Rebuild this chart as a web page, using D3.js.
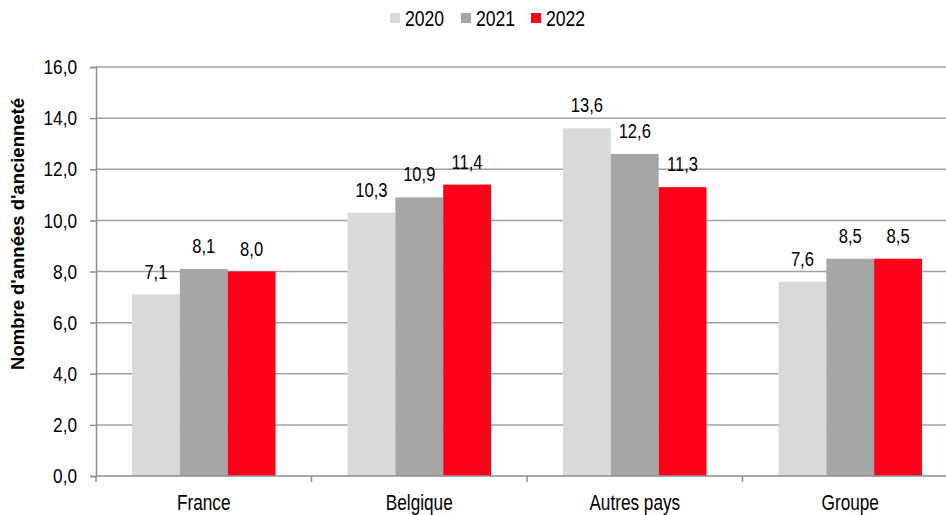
<!DOCTYPE html>
<html>
<head>
<meta charset="utf-8">
<script src="https://cdn.jsdelivr.net/npm/d3@7"></script>
<style>
  body { margin: 0; background: #fff; }
  svg { font-family: "Liberation Sans", Arial, sans-serif; }
</style>
</head>
<body>
<div id="chart"></div>
<script>
// Data
const categories = ["France", "Belgique", "Autres pays", "Groupe"];
const years = ["2020", "2021", "2022"];
const values2020 = [7.1, 10.3, 13.6, 7.6];
const values2021 = [8.1, 10.9, 12.6, 8.5];
const values2022 = [8.0, 11.4, 11.3, 8.5];
const yTicks = [0, 2, 4, 6, 8, 10, 12, 14, 16];
const colors = ["#d9d9d9", "#a6a6a6", "#ff0019"];

const series = [values2020, values2021, values2022];

const width = 946, height = 515;
const margin = { top: 67, left: 96, bottom: 39 };

const svg = d3.select("#chart")
  .append("svg")
  .attr("width", width)
  .attr("height", height);

const x = d3.scaleBand()
  .domain(categories)
  .range([margin.left, margin.left + 4 * 215.5])
  .paddingInner(0)
  .paddingOuter(0);

const xInner = d3.scaleBand()
  .domain(years)
  .range([36, x.bandwidth() - 36]);

const y = d3.scaleLinear()
  .domain([0, 16])
  .range([height - margin.bottom, margin.top]);

const fmt = (v) => d3.format(".1f")(v).replace(".", ",");

// Horizontal gridlines
svg.append("g")
  .selectAll("line")
  .data(yTicks.filter((d) => d > 0))
  .enter()
  .append("line")
  .attr("x1", margin.left)
  .attr("x2", width)
  .attr("y1", (d) => y(d))
  .attr("y2", (d) => y(d))
  .attr("stroke", "#a0a0a0")
  .attr("stroke-width", 1.5);

// Bars + value labels (original uses a narrow face, so squeeze the text)
const groups = svg.append("g")
  .selectAll("g")
  .data(categories)
  .enter()
  .append("g")
  .attr("transform", (d) => `translate(${x(d)},0)`);

years.forEach((yr, i) => {
  groups.append("rect")
    .attr("x", xInner(yr))
    .attr("width", xInner.bandwidth())
    .attr("y", (d, j) => y(series[i][j]))
    .attr("height", (d, j) => y(0) - y(series[i][j]))
    .attr("fill", colors[i]);

  groups.append("text")
    .attr("transform", (d, j) =>
      `translate(${xInner(yr) + xInner.bandwidth() / 2},${y(series[i][j]) - 16}) scale(0.85,1)`)
    .attr("text-anchor", "middle")
    .style("font-size", "19.5px")
    .style("fill", "#000")
    .text((d, j) => fmt(series[i][j]));
});

// Y axis
const yAxis = svg.append("g")
  .attr("transform", `translate(${margin.left},0)`)
  .call(d3.axisLeft(y).tickValues(yTicks).tickFormat(fmt).tickSizeOuter(0).tickSize(6).tickPadding(0));
yAxis.select(".domain").attr("stroke", "#8c8c8c").attr("stroke-width", 1.5);
yAxis.selectAll(".tick line").attr("stroke", "#8c8c8c").attr("stroke-width", 1.5);
yAxis.selectAll(".tick text")
  .attr("x", null)
  .attr("transform", "translate(-19,0) scale(0.82,1)")
  .style("font-size", "21px")
  .style("fill", "#000")
  .style("font-family", "'Liberation Sans', Arial, sans-serif");

// X axis baseline and tick marks at category boundaries
svg.append("line")
  .attr("x1", margin.left)
  .attr("x2", width)
  .attr("y1", y(0))
  .attr("y2", y(0))
  .attr("stroke", "#8c8c8c")
  .attr("stroke-width", 1.5);

svg.append("g")
  .selectAll("line")
  .data(categories)
  .enter()
  .append("line")
  .attr("x1", (d) => x(d))
  .attr("x2", (d) => x(d))
  .attr("y1", y(0))
  .attr("y2", y(0) + 6)
  .attr("stroke", "#8c8c8c")
  .attr("stroke-width", 1.5);

svg.append("g")
  .selectAll("text")
  .data(categories)
  .enter()
  .append("text")
  .attr("transform", (d) => `translate(${x(d) + x.bandwidth() / 2},${y(0) + 34}) scale(0.8,1)`)
  .attr("text-anchor", "middle")
  .style("font-size", "21.5px")
  .text((d) => d);

// Y axis title
svg.append("text")
  .attr("transform", "translate(24,234) rotate(-90)")
  .attr("text-anchor", "middle")
  .style("font-size", "18.5px")
  .style("font-weight", "bold")
  .text("Nombre d'années d'ancienneté");

// Legend
const legendX = [390, 461, 531];
const legend = svg.append("g")
  .selectAll("g")
  .data(years)
  .enter()
  .append("g")
  .attr("transform", (d, i) => `translate(${legendX[i]},13)`);

legend.append("rect")
  .attr("width", 10)
  .attr("height", 10)
  .attr("fill", (d, i) => colors[i]);

legend.append("text")
  .attr("transform", "translate(15,13) scale(0.8,1)")
  .style("font-size", "22px")
  .text((d) => d);
</script>
</body>
</html>
